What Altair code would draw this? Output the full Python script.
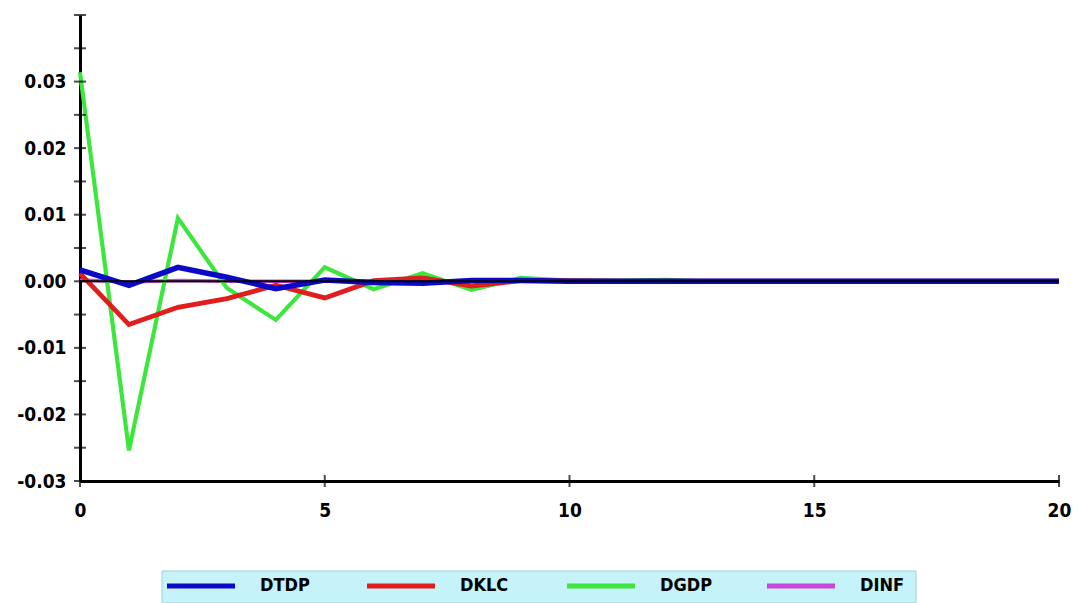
import altair as alt
import pandas as pd

steps = list(range(21))
series_names = ["DTDP", "DKLC", "DGDP", "DINF"]
DTDP = [0.0017, -0.0006, 0.0021, 0.0006, -0.0011, 0.0002, -0.0002, -0.0003, 0.0001, 0.0001,
        0.0, 0.0, 0.0, 0.0, 0.0, 0.0, 0.0, 0.0, 0.0, 0.0, 0.0]
DKLC = [0.0012, -0.0065, -0.0039, -0.0026, -0.0006, -0.0025, 0.0001, 0.0005, -0.0007, 0.0001,
        0.0001, 0.0, 0.0, 0.0, 0.0, 0.0, 0.0, 0.0, 0.0, 0.0, 0.0]
DGDP = [0.0314, -0.0254, 0.0095, -0.0010, -0.0058, 0.0021, -0.0012, 0.0012, -0.0013, 0.0005,
        0.0001, 0.0001, 0.0002, -0.0001, 0.0, 0.0, 0.0, 0.0, 0.0, 0.0, 0.0]
DINF = [0.0002, -0.0001, 0.0001, 0.0, 0.0, 0.0, 0.0, 0.0, 0.0, 0.0,
        0.0, 0.0, 0.0, 0.0, 0.0, 0.0, 0.0, 0.0, 0.0, 0.0, 0.0]
colors = ["#0a0ac8", "#e01e1e", "#3ce63c", "#c846dc"]
widths = [5.5, 3.5, 2, 1.5]
y_labels = [-0.03, -0.02, -0.01, 0.0, 0.01, 0.02, 0.03]
y_ticks = [-0.03, -0.025, -0.02, -0.015, -0.01, -0.005, 0.0, 0.005, 0.01, 0.015,
           0.02, 0.025, 0.03, 0.035, 0.04]
x_ticks = [0, 5, 10, 15, 20]

FONT = "DejaVu Sans Condensed"

values = {"DTDP": DTDP, "DKLC": DKLC, "DGDP": DGDP, "DINF": DINF}
rows = []
for name in ["DINF", "DGDP", "DKLC", "DTDP"]:
    for s, v in zip(steps, values[name]):
        rows.append({"step": s, "value": v, "series": name})
df = pd.DataFrame(rows)

xscale = alt.Scale(domain=[0, 20], nice=False, zero=False)
yscale = alt.Scale(domain=[-0.03, 0.04], nice=False, zero=False)
cscale = alt.Scale(domain=series_names, range=colors)

lines = alt.Chart(df).mark_line().encode(
    x=alt.X("step:Q", scale=xscale,
            axis=alt.Axis(values=x_ticks, title=None, grid=False, ticks=False, tickSize=0,
                          domainColor="black", domainWidth=3, labelPadding=20,
                          labelFlush=False, labelOverlap=False,
                          labelFont=FONT, labelFontWeight="bold", labelFontSize=19,
                          labelColor="black")),
    y=alt.Y("value:Q", scale=yscale,
            axis=alt.Axis(values=y_labels, title=None, grid=False, ticks=False, tickSize=0,
                          domainColor="black", domainWidth=3, labelPadding=14,
                          labelFlush=False, labelOverlap=False,
                          labelExpr="replace(format(datum.value, '.2f'), '\u2212', '-')",
                          labelFont=FONT, labelFontWeight="bold", labelFontSize=19,
                          labelColor="black")),
    color=alt.Color("series:N", scale=cscale, legend=None),
    strokeWidth=alt.StrokeWidth("series:N",
                                scale=alt.Scale(domain=series_names, range=widths),
                                legend=None),
    detail="series:N",
)

zero_df = pd.DataFrame({"y": [0.0]})
zero_rule = alt.Chart(zero_df).mark_rule(color="black", strokeWidth=2).encode(
    y=alt.Y("y:Q", scale=yscale)
)

ytick_df = pd.DataFrame({"x": [0] * len(y_ticks), "y": y_ticks})
yticks = alt.Chart(ytick_df).mark_tick(orient="horizontal", size=12, thickness=2,
                                        color="black").encode(
    x=alt.X("x:Q", scale=xscale), y=alt.Y("y:Q", scale=yscale)
)

xtick_df = pd.DataFrame({"x": x_ticks, "y": [-0.03] * len(x_ticks)})
xticks = alt.Chart(xtick_df).mark_tick(orient="vertical", size=12, thickness=2,
                                        color="black").encode(
    x=alt.X("x:Q", scale=xscale), y=alt.Y("y:Q", scale=yscale)
)

# legend box drawn from the series list
leg_df = pd.DataFrame({"series": series_names})
leg_off = alt.Scale(type="point", domain=series_names, range=[0, 600], padding=0)

leg_bg = alt.Chart(pd.DataFrame({"k": [0]})).mark_rect(
    fill="#c6f3f9", stroke="#a0cfd6", strokeWidth=1
).encode(x=alt.value(82), x2=alt.value(836), y=alt.value(556), y2=alt.value(588))

leg_sym = alt.Chart(leg_df).mark_point(
    shape="stroke", size=4624, strokeWidth=5, filled=False, opacity=1
).encode(
    x=alt.value(121),
    xOffset=alt.XOffset("series:N", scale=leg_off),
    y=alt.value(571),
    color=alt.Color("series:N", scale=cscale, legend=None),
)

leg_txt = alt.Chart(leg_df).mark_text(
    align="left", baseline="middle", dx=59, font=FONT, fontWeight="bold",
    fontSize=18, color="black"
).encode(
    x=alt.value(121),
    xOffset=alt.XOffset("series:N", scale=leg_off),
    y=alt.value(571),
    text="series:N",
)

chart = alt.layer(lines, zero_rule, yticks, xticks, leg_bg, leg_sym, leg_txt).properties(
    width=979, height=466,
    autosize=alt.AutoSizeParams(type="none"),
    padding={"left": 72, "top": 7, "right": 14, "bottom": 130},
    background="white",
).configure_view(strokeWidth=0)

chart.save("out.html", embed_options={"renderer": "svg", "actions": False})
